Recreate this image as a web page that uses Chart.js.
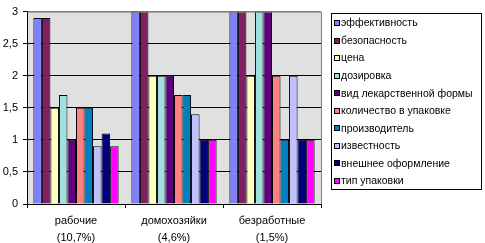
<!DOCTYPE html>
<html>
<head>
<meta charset="utf-8">
<script src="https://cdn.jsdelivr.net/npm/chart.js@4"></script>
<style>
html,body{margin:0;padding:0;background:#fff;}
#wrap{width:485px;height:243px;position:relative;}
</style>
</head>
<body>
<div id="wrap"><canvas id="c" width="485" height="243"></canvas></div>
<script>
const categories = [["рабочие","(10,7%)"],["домохозяйки","(4,6%)"],["безработные","(1,5%)"]];
const seriesNames = ["эффективность","безопасность","цена","дозировка","вид лекарственной формы","количество в упаковке","производитель","известность","внешнее оформление","тип упаковки"];
const seriesColors = ["#8080FF","#802060","#FFFFC0","#A0E0E0","#600080","#FF8080","#0080C0","#C0C0FF","#000080","#FF00FF"];
const effectiveness = [2.9, 3, 3];
const safety = [2.9, 3, 3];
const price = [1.5, 2, 2];
const dosage = [1.7, 2, 3];
const dosageForm = [1.0, 2, 3];
const packQuantity = [1.5, 1.7, 2];
const manufacturer = [1.5, 1.7, 1];
const fame = [0.9, 1.4, 2];
const appearance = [1.1, 1, 1];
const packType = [0.9, 1, 1];
const seriesValues = [effectiveness, safety, price, dosage, dosageForm, packQuantity, manufacturer, fame, appearance, packType];
const yTicks = [0, 0.5, 1, 1.5, 2, 2.5, 3];

const FONT = "'Liberation Sans', Arial, sans-serif";

const bgPlugin = {
  id: 'plotBg',
  beforeDraw(chart) {
    const {ctx, chartArea: a} = chart;
    ctx.save();
    ctx.fillStyle = '#E0E0E0';
    ctx.fillRect(a.left, a.top, a.right - a.left, a.bottom - a.top);
    ctx.restore();
  },
  afterDatasetsDraw(chart) {
    const {ctx, chartArea: a} = chart;
    ctx.save();
    ctx.strokeStyle = '#808080';
    ctx.lineWidth = 1;
    ctx.beginPath();
    ctx.moveTo(a.left, a.top + 0.5);
    ctx.lineTo(a.right + 0.5, a.top + 0.5);
    ctx.lineTo(a.right + 0.5, a.bottom);
    ctx.stroke();
    ctx.restore();
  }
};

const legendPlugin = {
  id: 'boxLegend',
  afterDraw(chart) {
    const ctx = chart.ctx;
    const x0 = 331, y0 = 13, w = 150, h = 176;
    ctx.save();
    ctx.strokeStyle = '#000';
    ctx.lineWidth = 1;
    ctx.strokeRect(x0 + 0.5, y0 + 0.5, w, h);
    ctx.font = '10.5px ' + FONT;
    ctx.textBaseline = 'middle';
    ctx.textAlign = 'left';
    chart.data.datasets.forEach((ds, i) => {
      const cy = 23 + i * 17.55;
      const sy = Math.round(cy - 3);
      ctx.fillStyle = ds.backgroundColor;
      ctx.fillRect(334, sy, 6, 6);
      ctx.strokeStyle = '#000';
      ctx.strokeRect(334.5, sy + 0.5, 5, 5);
      ctx.fillStyle = '#000';
      ctx.fillText(ds.label, 341, cy + 0.5);
    });
    ctx.restore();
  }
};

new Chart(document.getElementById('c'), {
  type: 'bar',
  data: {
    labels: categories,
    datasets: seriesNames.map((n, i) => ({
      label: n,
      data: seriesValues[i],
      backgroundColor: seriesColors[i],
      borderColor: '#000',
      borderWidth: 1,
      categoryPercentage: 0.87,
      barPercentage: 1.0
    }))
  },
  options: {
    responsive: false,
    animation: false,
    devicePixelRatio: 1,
    layout: { padding: { left: 0, top: 8, right: 164, bottom: 0 } },
    plugins: { legend: { display: false }, tooltip: { enabled: false } },
    scales: {
      x: {
        grid: { display: true, drawOnChartArea: false, drawTicks: true, tickLength: 4, color: '#000', offset: true },
        border: { display: true, color: '#000', width: 1 },
        ticks: { color: '#000', font: { family: FONT, size: 11, lineHeight: 1.55 }, padding: 4, maxRotation: 0, autoSkip: false },
        afterFit(s) { s.height = 39; }
      },
      y: {
        min: 0, max: 3,
        afterBuildTicks(s) { s.ticks = yTicks.map(v => ({ value: v })); },
        grid: {
          color: (c) => (c.tick && c.tick.value === 3 ? '#808080' : '#000'),
          tickColor: '#000',
          drawTicks: true, tickLength: 4
        },
        border: { display: true, color: '#000', width: 1 },
        ticks: {
          color: '#000', font: { family: FONT, size: 11 }, padding: 5,
          callback: (v) => String(v).replace('.', ',')
        },
        afterFit(s) { s.width = 27; }
      }
    }
  },
  plugins: [bgPlugin, legendPlugin]
});
</script>
</body>
</html>
